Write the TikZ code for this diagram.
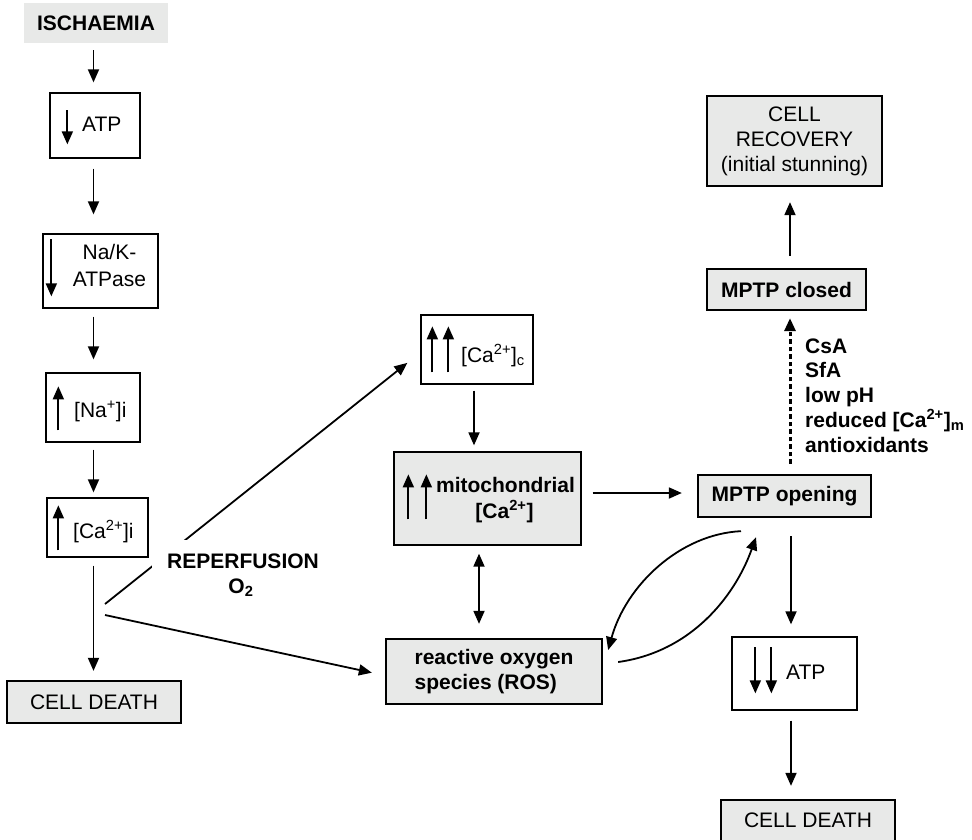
\documentclass[tikz,border=0pt]{standalone}
\usepackage{fontspec}
\setmainfont{Liberation Sans}
\usetikzlibrary{arrows.meta,calc}
\definecolor{boxgrey}{RGB}{232,233,232}
\begin{document}
\begin{tikzpicture}[x=1pt,y=-1pt,
  every node/.style={font=\fontsize{21}{25}\selectfont, inner sep=0pt},
  thinbox/.style={draw, line width=1.3pt},
  thickbox/.style={draw, line width=2.3pt, fill=boxgrey},
  greybox/.style={draw, line width=1.3pt, fill=boxgrey},
  boldtxt/.style={font=\fontsize{21}{25}\selectfont\bfseries},
  arr/.style={line width=1.8pt, -{Triangle[length=13pt,width=11pt]}},
  darr/.style={line width=1.8pt, {Triangle[length=13pt,width=11pt]}-{Triangle[length=13pt,width=11pt]}},
  dotarr/.style={line width=3pt, dash pattern=on 4.5pt off 3pt, -{Triangle[length=13pt,width=11pt]}}
]
\useasboundingbox (0,0) rectangle (972,839);
\clip (0,0) rectangle (972,839);

% ---------- boxes ----------
\node[fill=boxgrey, minimum width=144pt, minimum height=40pt, boldtxt] (isch) at (96,23) {ISCHAEMIA};
\node[thinbox, minimum width=90pt, minimum height=65pt] (atp1) at (95,125.5) {};
\node[thinbox, minimum width=115pt, minimum height=74pt] (nak) at (100.5,271) {};
\node[thinbox, minimum width=94pt, minimum height=69pt] (na) at (93,407.5) {};
\node[thinbox, minimum width=101pt, minimum height=59pt] (ca) at (97.5,527.5) {};
\node[thickbox, minimum width=174pt, minimum height=42pt] (death1) at (94,702) {CELL DEATH};
\node[thinbox, minimum width=112pt, minimum height=69pt] (cac) at (477,349.5) {};
\node[greybox, minimum width=187pt, minimum height=93pt] (mito) at (487.5,498.5) {};
\node[thickbox, minimum width=216pt, minimum height=65pt, boldtxt, align=left] (ros) at (494,671.5) {reactive oxygen\\species (ROS)};
\node[thickbox, minimum width=173pt, minimum height=42pt, boldtxt] (mptpo) at (784.5,496) {MPTP opening};
\node[thickbox, minimum width=159pt, minimum height=41pt, boldtxt] (mptpc) at (786.5,289.5) {MPTP closed};
\node[thickbox, minimum width=175pt, minimum height=90pt, align=center] (rec) at (794.5,141) {CELL\\RECOVERY\\(initial stunning)};
\node[thinbox, fill=white, minimum width=125pt, minimum height=73pt] (atp2) at (794.5,673.5) {};
\node[thickbox, minimum width=174pt, minimum height=41pt] (death2) at (808,820.5) {CELL DEATH};

% ---------- texts inside boxes ----------
\node[anchor=base west] (atp1t) at (82,131) {ATP};
\node[anchor=base] (nakt1) at (109.5,259) {Na/K-};
\node[anchor=base] (nakt2) at (109.5,286) {ATPase};
\node[anchor=base west] (nat) at (74,417) {[Na\textsuperscript{+}]i};
\node[anchor=base west] (cat) at (73,538) {[Ca\textsuperscript{2+}]i};
\node[anchor=base west] (cact) at (461,362) {[Ca\textsuperscript{2+}]\textsubscript{c}};
\node[anchor=base, boldtxt] (mitot1) at (505.5,492) {mitochondrial};
\node[anchor=base, boldtxt] (mitot2) at (504.5,518) {[Ca\textsuperscript{2+}]};
\node[anchor=base west] (atp2t) at (786,679) {ATP};

% ---------- symbol arrows inside boxes ----------
\draw[arr] ([shift={(18,18)}]atp1.north west) -- ++(0,34);
\draw[arr] ([shift={(9,6)}]nak.north west) -- ++(0,57);
\draw[arr] ([shift={(13,58)}]na.north west) -- ++(0,-44);
\draw[arr] ([shift={(12,53)}]ca.north west) -- ++(0,-45);
\draw[arr] ([shift={(12,58)}]cac.north west) -- ++(0,-46);
\draw[arr] ([shift={(28,58)}]cac.north west) -- ++(0,-46);
\draw[arr] ([shift={(15,68)}]mito.north west) -- ++(0,-45);
\draw[arr] ([shift={(33,68)}]mito.north west) -- ++(0,-45);
\draw[arr] ([shift={(24,11)}]atp2.north west) -- ++(0,46);
\draw[arr] ([shift={(40,11)}]atp2.north west) -- ++(0,46);

% ---------- connectors ----------
\coordinate (colA) at (93.5,0);
\coordinate (colB) at (474,0);
\coordinate (colC) at (479,0);
\coordinate (colD) at (790,0);
\coordinate (rowD) at (0,493);
\coordinate (rp1) at (105,604);
\coordinate (rp2) at (105,615);

\draw[arr, shorten <=7pt, shorten >=10pt] (isch.south -| colA) -- (atp1.north -| colA);
\draw[arr, shorten <=10pt, shorten >=19pt] (atp1.south -| colA) -- (nak.north -| colA);
\draw[arr, shorten <=8pt, shorten >=13pt] (nak.south -| colA) -- (na.north -| colA);
\draw[arr, shorten <=7pt, shorten >=5pt] (na.south -| colA) -- (ca.north -| colA);
\draw[arr, shorten <=8pt, shorten >=9pt] (ca.south -| colA) -- (death1.north -| colA);

\draw[arr, shorten <=6pt, shorten >=6pt] (cac.south -| colB) -- (mito.north -| colB);
\draw[darr, shorten <=8pt, shorten >=14pt] (mito.south -| colC) -- (ros.north -| colC);
\draw[arr, shorten <=11pt, shorten >=15pt] (mito.east |- rowD) -- (mptpo.west |- rowD);

\draw[dotarr, shorten <=10pt, shorten >=7pt] (mptpo.north -| colD) -- (mptpc.south -| colD);
\draw[arr, shorten <=12pt, shorten >=15pt] (mptpc.north -| colD) -- (rec.south -| colD);
\draw[arr, shorten <=18pt, shorten >=12pt] ([xshift=1pt]mptpo.south -| colD) -- ([xshift=1pt]atp2.north -| colD);
\draw[arr, shorten <=10pt, shorten >=13pt] ([xshift=1pt]atp2.south -| colD) -- ([xshift=1pt]death2.north -| colD);

% reperfusion branches
\draw[arr, shorten >=16.6pt] (rp1) -- ([yshift=-3pt]cac.west);
\draw[arr, shorten >=13.3pt] (rp2) -- ([yshift=-4pt]ros.west);
\node[anchor=base, boldtxt, fill=white, inner xsep=15pt, inner ysep=13pt] (rep) at (243,568) {REPERFUSION};
\node[anchor=base, boldtxt] (o2) at (241,593) {O\textsubscript{2}};

% curved arrows between MPTP opening and ROS
\draw[arr] ([shift={(-43.5,13)}]mptpo.south) .. controls +(-61,3) and +(18,-65) .. ([shift={(5,-21.5)}]ros.east);
\draw[arr] ([shift={(15,-9.5)}]ros.east) .. controls +(73,-10) and +(-21,59) .. ([shift={(-28.5,19)}]mptpo.south);

% inhibitors
\node[anchor=base west, boldtxt] (inh1) at (805,353) {CsA};
\node[anchor=base west, boldtxt] (inh2) at (805,377.75) {SfA};
\node[anchor=base west, boldtxt] (inh3) at (805,402.5) {low pH};
\node[anchor=base west, boldtxt] (inh4) at (805,427.25) {reduced [Ca\textsuperscript{2+}]\textsubscript{m}};
\node[anchor=base west, boldtxt] (inh5) at (805,452) {antioxidants};
\end{tikzpicture}
\end{document}
